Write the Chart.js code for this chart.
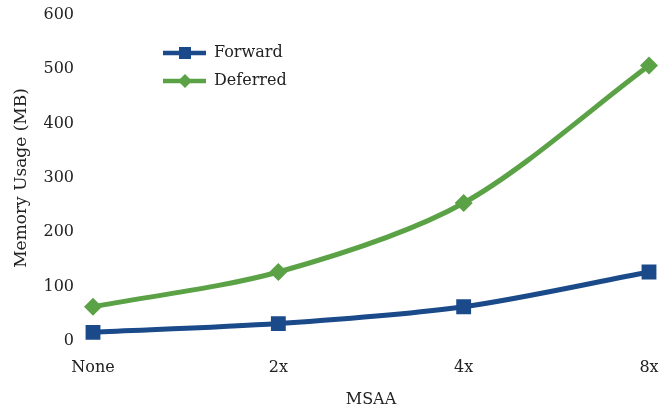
<!DOCTYPE html>
<html>
<head>
<meta charset="utf-8">
<script src="https://cdn.jsdelivr.net/npm/chart.js@4"></script>
<style>
  html, body { margin: 0; padding: 0; background: #fff; }
  #wrap { width: 664px; height: 410px; }
</style>
</head>
<body>
<div id="wrap"><canvas id="memChart"></canvas></div>
<script>
// datos
const categorias = ['None', '2x', '4x', '8x'];
const forward = [16, 32, 63, 127];
const deferred = [63, 127, 254, 507];
const yTicks = [0, 100, 200, 300, 400, 500, 600];

const azul = '#1A4A8A';
const verde = '#5AA245';
const fuente = "'DejaVu Serif', serif";
const gris = '#222222';

// leyenda dentro del area: linea con marcador
const leyendaPlugin = {
    id: 'leyendaLinea',
    afterDraw(chart) {
        const ctx = chart.ctx;
        const items = [
            { ds: chart.data.datasets[0], y: 53, r: 8.5 },
            { ds: chart.data.datasets[1], y: 81, r: 7 }
        ];
        ctx.save();
        items.forEach(it => {
            ctx.strokeStyle = it.ds.borderColor;
            ctx.lineWidth = 4.5;
            ctx.beginPath();
            ctx.moveTo(163, it.y);
            ctx.lineTo(206, it.y);
            ctx.stroke();
            ctx.fillStyle = it.ds.borderColor;
            Chart.helpers.drawPoint(ctx, {
                pointStyle: it.ds.pointStyle,
                radius: it.r,
                borderWidth: 0
            }, 185, it.y);
            ctx.fillStyle = gris;
            ctx.font = "16px " + fuente;
            ctx.textBaseline = 'middle';
            ctx.fillText(it.ds.label, 214, it.y);
        });
        ctx.restore();
    }
};

const ctx = document.getElementById('memChart').getContext('2d');
new Chart(ctx, {
    type: 'line',
    data: {
        labels: categorias,
        datasets: [
            {
                label: 'Forward',
                data: forward,
                borderColor: azul,
                backgroundColor: azul,
                borderWidth: 5,
                pointStyle: 'rect',
                pointRadius: 10.5,
                pointBorderWidth: 0,
                tension: 0.3
            },
            {
                label: 'Deferred',
                data: deferred,
                borderColor: verde,
                backgroundColor: verde,
                borderWidth: 5,
                pointStyle: 'rectRot',
                pointRadius: 9,
                pointBorderWidth: 0,
                tension: 0.3
            }
        ]
    },
    options: {
        responsive: true,
        maintainAspectRatio: false,
        animation: false,
        layout: { padding: { left: 0, right: 15, top: 15, bottom: 0 } },
        plugins: {
            legend: { display: false },
            tooltip: { enabled: false }
        },
        scales: {
            x: {
                offset: false,
                grid: { display: false, drawTicks: false },
                border: { display: false },
                ticks: { color: gris, font: { family: fuente, size: 16 }, padding: 17, maxRotation: 0 },
                title: { display: true, text: 'MSAA', color: gris, font: { family: fuente, size: 16 }, padding: { top: 0, bottom: 1 } },
                afterFit: s => {
                    s.height = 69;
                    s.paddingLeft = 0;
                    s.paddingRight = 0;
                }
            },
            y: {
                min: 0,
                max: 600,
                afterBuildTicks: s => { s.ticks = yTicks.map(v => ({ value: v })); },
                grid: { display: false, drawTicks: false },
                border: { display: false },
                ticks: { color: gris, font: { family: fuente, size: 16 }, padding: 19 },
                title: { display: true, text: 'Memory Usage (MB)', color: gris, font: { family: fuente, size: 17 }, padding: { top: 11, bottom: 0 } },
                afterFit: s => {
                    s.width = 93;
                    s.paddingTop = 0;
                    s.paddingBottom = 0;
                }
            }
        }
    },
    plugins: [leyendaPlugin]
});
</script>
</body>
</html>
